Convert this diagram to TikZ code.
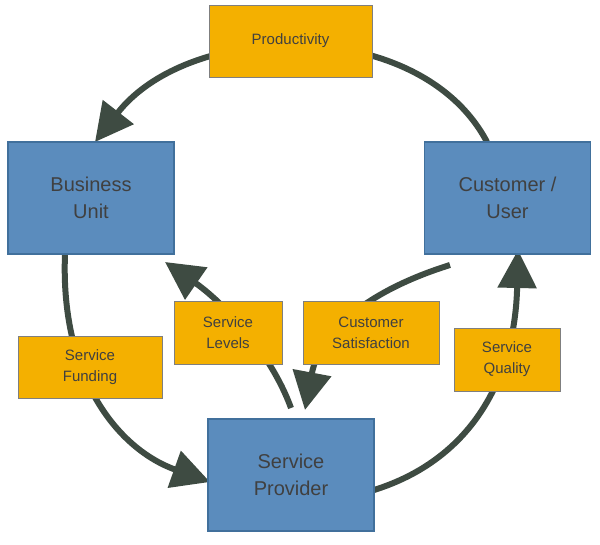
\documentclass[tikz,border=0pt]{standalone}
\usepackage{fontspec}
\setmainfont{Liberation Sans}
\usetikzlibrary{arrows.meta}
\definecolor{blu}{HTML}{5B8CBD}
\definecolor{bluB}{HTML}{41709C}
\definecolor{org}{HTML}{F4B000}
\definecolor{orgB}{HTML}{7F7F7F}
\definecolor{arr}{HTML}{3E4B42}
\definecolor{txt}{HTML}{404040}
\begin{document}
\begin{tikzpicture}[x=1pt,y=-1pt,
  big/.style={draw=bluB,line width=1.2pt,fill=blu,minimum width=166pt,minimum height=112pt,align=center,font=\fontsize{20}{27}\selectfont,text=txt},
  small/.style={draw=orgB,line width=0.8pt,fill=org,align=center,font=\fontsize{15}{21}\selectfont,text=txt},
  conn/.style={draw=arr,line width=6pt,-{Triangle[length=38pt,width=38pt]}}]
\useasboundingbox (0,0) rectangle (600,545);
\coordinate (a1) at (487,142);
\coordinate (a2) at (95,142);
\coordinate (b1) at (65,254);
\coordinate (b2) at (210,482);
\coordinate (c1) at (374,490);
\coordinate (c2) at (518,250);
\coordinate (d1) at (291,408);
\coordinate (d2) at (165,262);
\coordinate (e1) at (450,265);
\coordinate (e2) at (305,410);
\draw[conn] (a1) .. controls (420,15) and (190,20) .. (a2);
\draw[conn] (b1) .. controls (60,380) and (120,450) .. (b2);
\draw[conn] (c1) .. controls (470,460) and (515,380) .. (c2);
\draw[conn] (d1) .. controls (270,350) and (220,300) .. (d2);
\draw[conn] (e1) .. controls (370,290) and (320,330) .. (e2);
\node[small,minimum width=163pt,minimum height=72pt] (prod) at (290.5,41) {Productivity};
\node[big] (bu) at (91,198) {Business\\Unit};
\node[big] (cu) at (507.5,198) {Customer /\\User};
\node[big] (sp) at (291,475) {Service\\Provider};
\node[small,minimum width=144pt,minimum height=62pt] (sf) at (90,367) {Service\\Funding};
\node[small,minimum width=108pt,minimum height=63pt] (sl) at (228,332.5) {Service\\Levels};
\node[small,minimum width=136pt,minimum height=63pt] (cs) at (371,332.5) {Customer\\Satisfaction};
\node[small,minimum width=106pt,minimum height=63pt] (sq) at (507,359.5) {Service\\Quality};
\end{tikzpicture}
\end{document}
